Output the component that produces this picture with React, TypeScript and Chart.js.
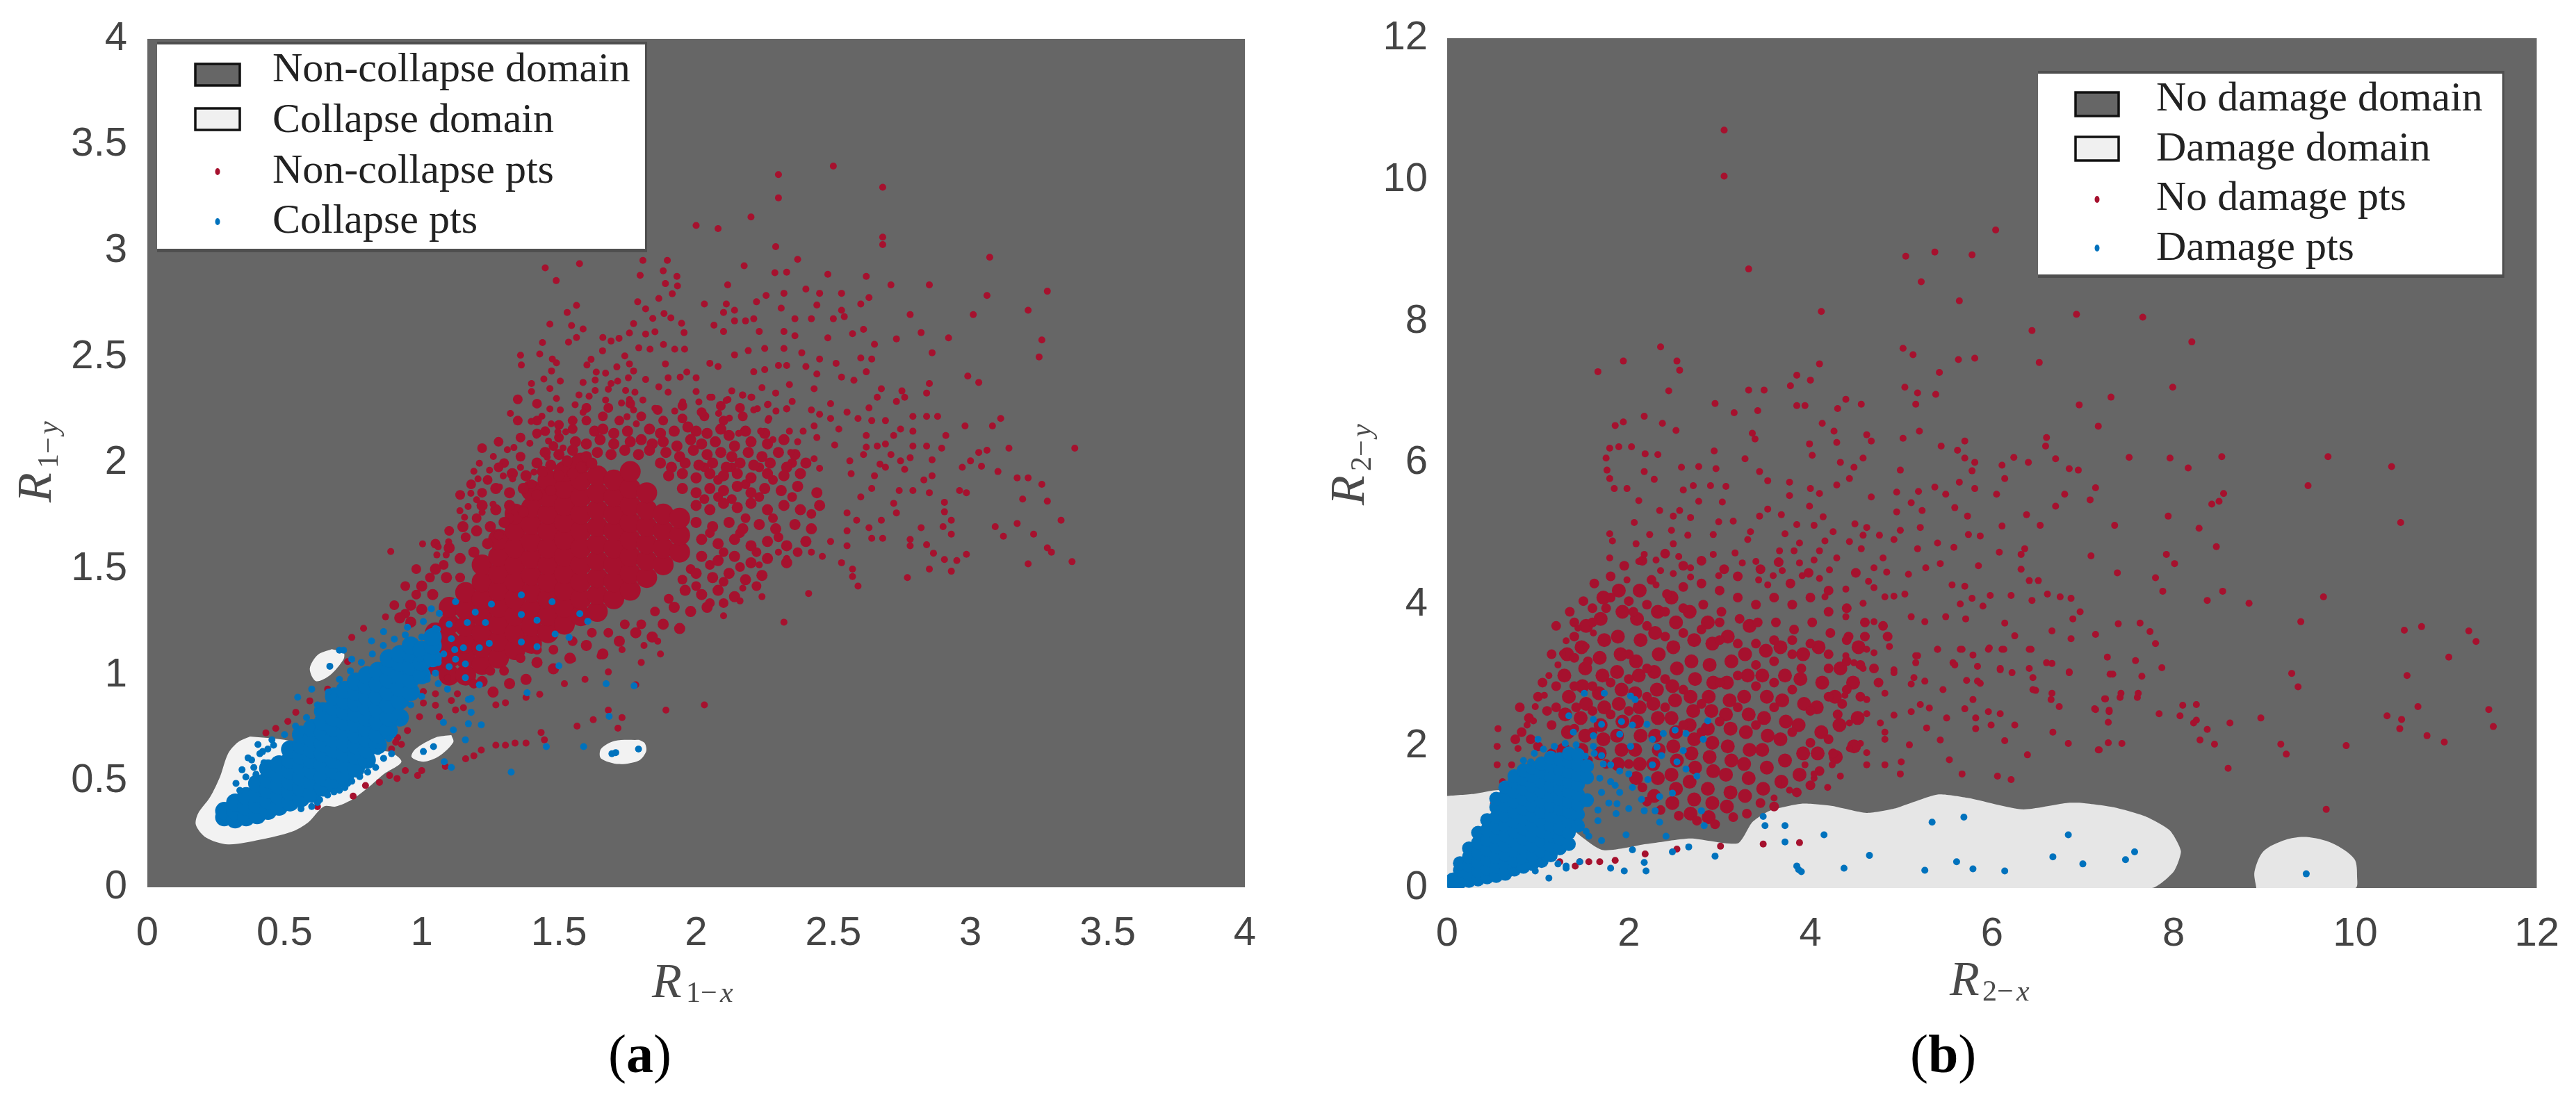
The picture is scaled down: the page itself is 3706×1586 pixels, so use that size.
import React, { useEffect, useRef } from "react";
import { Chart, registerables } from "chart.js";

Chart.register(...registerables);

const GREY = "#666666";
const RED = "#A6112E";
const BLUE = "#0072BD";

const ticksA = [0, 0.5, 1, 1.5, 2, 2.5, 3, 3.5, 4];
const ticksB = [0, 2, 4, 6, 8, 10, 12];

const legendA = ["Non-collapse domain", "Collapse domain", "Non-collapse pts", "Collapse pts"];
const legendB = ["No damage domain", "Damage domain", "No damage pts", "Damage pts"];

// ---- Panel (a): collapse domain outlines
const domA1 = [.374,.711,.330,.684,.294,.63,.265,.522,.228,.424,.185,.348,.177,.294,.214,.234,.294,.202,.41,.224,.526,.262,.585,.305,.643,.381,.686,.381,.745,.413,.803,.468,.861,.533,.926,.592,.875,.64,.715,.63,.50,.695];
const domA2 = [.672,1.123,.621,1.096,.592,1.031,.614,.972,.665,.999,.715,1.075,.715,1.107];
const domA3 = [1.108,.717,1.05,.706,.977,.652,.963,.614,1.006,.592,1.064,.619,1.115,.684];
const domA4 = [1.792,.695,1.704,.69,1.653,.652,1.653,.608,1.719,.581,1.792,.598,1.818,.641,1.813,.679];

// ---- Panel (a): sparse non-collapse points, right of the cloud
const redA1 = [2.68,3.065,2.68,3.03,3.07,2.97,2.08,3.105,2.29,3.02,2.37,2.96,2.175,2.93,2.287,2.897,2.33,2.9,2.48,2.89,2.62,2.88,2.115,2.84,2.71,2.84,2.85,2.84,3.28,2.81,3.06,2.79,2.255,2.79,2.32,2.8,2.4,2.82,2.45,2.8,2.53,2.8,2.63,2.78,2.6,2.75,2.44,2.745,2.22,2.76,2.11,2.75,2.03,2.75,2.14,2.72,2.1,2.71,2.31,2.73,2.53,2.72,2.5,2.68,2.54,2.69,2.42,2.68,2.36,2.68,2.21,2.68,2.18,2.67,2.14,2.67,2.78,2.7,3.01,2.7,3.21,2.72,2.065,2.65,2.1,2.62,2.23,2.62,2.32,2.62,2.36,2.6,2.48,2.59,2.57,2.61,2.61,2.63,2.73,2.585,2.82,2.615,2.92,2.59,3.26,2.58,2.65,2.56,2.19,2.53,2.25,2.54,2.14,2.51,2.32,2.54,2.385,2.52,2.86,2.52,3.25,2.5,2.6,2.495,2.64,2.49,2.62,2.43,2.45,2.49,2.51,2.47,2.4,2.455,2.33,2.46,2.3,2.46,2.25,2.44,2.21,2.43,2.08,2.455,2.05,2.47,2.53,2.405,2.575,2.39,2.44,2.42,2.99,2.41,3.03,2.38,2.85,2.375,2.84,2.33,2.675,2.35,2.75,2.34,2.76,2.31,2.66,2.31,2.73,2.29,2.34,2.37,2.43,2.35,2.24,2.355,2.29,2.33,2.13,2.34,2.17,2.32,2.2,2.31,2.05,2.31,2.11,2.295,2.35,2.29,2.49,2.28,2.26,2.275,2.21,2.25,2.33,2.255,2.42,2.25,2.63,2.26,2.55,2.24,2.45,2.23,2.49,2.21,2.59,2.21,2.64,2.2,2.69,2.2,2.79,2.22,2.84,2.22,2.88,2.22,3.11,2.21,2.98,2.175,3.08,2.175,2.745,2.16,2.79,2.15,2.91,2.13,2.52,2.16,2.34,2.15,2.39,2.15,2.43,2.175,2.265,2.21,2.62,2.13,2.72,2.13,2.44,2.12,2.155,2.14,2.235,2.15,2.28,2.11];
const redA2 = [2.79,2.08,2.84,2.08,2.895,2.07,3.14,2.07,3.38,2.07,3.03,2.05,3.06,2.06,2.66,2.08,2.69,2.09,2.62,2.075,2.61,2.04,2.505,2.085,2.37,2.1,2.345,2.05,2.71,2.04,2.78,2.025,2.745,2.01,2.86,2.015,3,2.01,3.04,1.985,2.97,1.98,3.1,1.96,2.67,1.995,2.69,1.98,2.76,1.97,2.56,2.01,2.565,1.95,2.43,2.02,2.45,1.975,2.65,1.94,2.86,1.94,2.83,1.92,3.17,1.93,3.21,1.93,3.26,1.9,2.64,1.88,2.74,1.87,2.79,1.87,2.85,1.86,2.96,1.87,2.985,1.86,3.19,1.83,3.28,1.82,2.6,1.84,2.72,1.81,2.905,1.815,2.905,1.77,2.73,1.765,3.33,1.73,3.17,1.715,3.09,1.7,2.93,1.73,2.9,1.7,2.82,1.695,2.675,1.73,2.585,1.73,2.63,1.695,2.55,1.765,2.55,1.68,3.23,1.665,3.12,1.655,2.93,1.665,2.78,1.64,2.78,1.61,2.68,1.645,2.64,1.645,2.55,1.61,2.49,1.63,2.84,1.615,2.865,1.575,3.28,1.6,3.295,1.58,2.985,1.57,2.905,1.545,2.95,1.54,3.37,1.535,3.21,1.525,2.85,1.5,2.93,1.49,2.53,1.53,2.57,1.5,2.57,1.465,2.77,1.46,2.59,1.42,2.41,1.385,2.24,1.37,2.16,1.35,2.1,1.28,2.32,1.25,2.46,1.56,2.42,1.58,2.33,1.55,2.265,1.55,2.17,1.41,2.23,1.52,2.3,1.58,2.3,3.36,2.5,3.4,2.68,3.3,2.3,3.25,2.2,3.16,2.0,3.12];

// ---- Panel (a): upper flank of the cloud
const redA3 = [1.45,2.92,1.575,2.94,1.49,2.86,1.806,2.955,1.895,2.955,1.88,2.906,1.796,2.885,1.93,2.88,1.888,2.846,1.932,2.835,1.564,2.743,1.53,2.71,1.467,2.655,1.546,2.648,1.588,2.632,1.564,2.592,1.535,2.57,1.44,2.568,1.43,2.514,1.36,2.508,1.363,2.462,1.476,2.49,1.491,2.472,1.473,2.434,1.445,2.396,1.505,2.386,1.4,2.375,1.4,2.337,1.467,2.351,1.491,2.304,1.467,2.255,1.505,2.25,1.323,2.234,1.399,2.196,1.438,2.221,1.472,2.185,1.496,2.147,1.525,2.147,1.418,2.131,1.394,2.093,1.462,2.104,1.336,2.073,1.312,2.063,1.261,2.031,1.21,1.999,1.247,1.966,1.19,1.961,1.205,1.925,1.297,1.939,1.331,1.925,1.283,1.887,1.179,1.857,1.2,1.827,1.169,1.795,1.26,1.806,1.139,1.775,1.156,1.744,1.22,1.768,1.003,1.619,1.098,1.629,1.06,1.605,.887,1.583,1.089,1.567,1.055,1.567,1.36,1.979,1.409,1.957,1.515,2.071,1.457,2.028,1.66,2.592,1.69,2.575,1.719,2.588,1.757,2.613,1.772,2.657,1.816,2.608,1.85,2.619,1.787,2.76,1.816,2.727,1.864,2.776,1.913,2.798,1.842,2.682,1.883,2.705,1.908,2.684,1.947,2.659,1.956,2.615,1.659,2.529,1.791,2.543,1.832,2.537,1.881,2.559,1.922,2.537,1.958,2.537,1.74,2.505,1.757,2.467,1.772,2.434,1.617,2.489,1.602,2.462,1.888,2.467,1.711,2.453,1.636,2.429,1.67,2.424,1.753,2.402,1.816,2.394,1.898,2.402,1.942,2.405,1.966,2.429,2,2.402,1.588,2.38,1.632,2.391,1.69,2.375,1.714,2.386,1.864,2.359,1.898,2.334,1.632,2.342,1.573,2.321,1.61,2.315,1.68,2.348,1.743,2.342,1.777,2.334,1.67,2.297,1.559,2.275,1.602,2.266,1.728,2.283,1.757,2.299,1.806,2.297,1.85,2.258,1.588,2.239,1.772,2.25,1.748,2.218,1.782,2.185,2,2.337,1.951,2.288,2.01,2.288,2.058,2.31,1.922,2.245,2.116,2.299,2.169,2.321,2.203,2.31,2.223,2.256,2.262,2.277,2.291,2.245,2.121,2.212,2.082,2.234,2.262,2.201,2.33,2.256];

// ---- Panel (a): mid-density belt around the solid core
const redA4 = [1.63,2.15,1.66,2.16,1.7,2.14,1.75,2.15,1.83,2.16,1.87,2.14,1.92,2.15,1.97,2.17,2,2.15,2.04,2.14,2.09,2.16,2.12,2.13,2.18,2.15,2.25,2.14,1.56,2.1,1.6,2.09,1.65,2.11,1.7,2.09,1.76,2.1,1.8,2.11,1.84,2.09,1.88,2.1,1.93,2.08,1.98,2.11,2.02,2.09,2.07,2.1,2.14,2.08,2.2,2.1,2.26,2.09,2.32,2.11,1.45,2.05,1.5,2.04,1.55,2.06,1.6,2.03,1.64,2.05,1.69,2.04,1.74,2.06,1.79,2.04,1.83,2.06,1.89,2.05,1.94,2.03,1.99,2.06,2.04,2.04,2.09,2.05,2.13,2.03,2.19,2.05,2.24,2.03,2.3,2.05,2.36,2.04,1.42,2,1.47,1.99,1.53,2.01,1.58,1.98,1.62,2,1.87,2,1.91,1.98,1.96,2,2.01,1.99,2.06,2,2.11,1.98,2.16,2,2.21,1.99,2.27,2,2.33,1.98,2.4,2,1.33,1.95,1.38,1.94,1.44,1.96,1.5,1.94,1.55,1.95,1.9,1.94,1.95,1.95,2,1.93,2.05,1.95,2.1,1.94,2.15,1.95,2.2,1.93,2.26,1.95,2.32,1.94,2.38,1.95,1.27,1.88,1.32,1.86,1.37,1.88,1.42,1.85,1.47,1.87,1.95,1.88,2,1.86,2.05,1.88,2.1,1.87,2.15,1.89,2.2,1.86,2.25,1.88,2.31,1.87,2.37,1.89,2.44,1.86,1.22,1.8,1.27,1.78,1.32,1.8,1.37,1.77,2,1.8,2.05,1.78,2.1,1.81,2.15,1.79,2.2,1.81,2.26,1.78,2.32,1.8,2.38,1.78,2.45,1.8,1.15,1.7,1.2,1.68,1.25,1.7,1.3,1.72,2,1.72,2.06,1.7,2.12,1.72,2.17,1.69,2.23,1.71,2.29,1.69,2.36,1.71,2.42,1.69,1.1,1.6,1.14,1.55,1.19,1.58,1.24,1.62,2.02,1.64,2.08,1.62,2.14,1.64,2.2,1.61,2.26,1.63,2.33,1.61,2.4,1.63,1.05,1.5,1.09,1.46,2.02,1.56,2.08,1.54,2.14,1.56,2.2,1.53,2.26,1.55,2.33,1.53,1,1.42,1.04,1.38,2,1.48,2.06,1.46,2.12,1.48,2.18,1.45,2.24,1.47,.96,1.33,1,1.31,1.96,1.4,2.02,1.38,2.08,1.4,2.14,1.37,.92,1.27,.96,1.25,1.92,1.32,1.98,1.3,2.04,1.32,1.88,1.24,1.94,1.22,1.84,1.18,1.78,1.2,1.72,1.16,1.66,1.1,1.6,1.14,1.54,1.08,1.48,1.03,1.42,1.06,1.38,.98,1.32,.96,1.26,.92,1.22,.97];
const redA6 = [1.35,2.3,1.42,2.28,1.55,2.2,1.6,2.2,1.66,2.22,1.72,2.2,1.8,2.22,1.88,2.2,1.95,2.21,2.03,2.22,2.1,2.2,2.17,2.22,1.36,2.12,1.42,2.14,1.5,2.12,1.28,2.1,1.22,2.07,1.3,2,1.36,2.03,1.48,2.08,1.4,1.9,1.24,1.92,1.28,1.98,1.18,1.9,1.14,1.85,1.22,1.86,1.32,1.74,1.2,1.74,1.16,1.65,1.28,1.66,1.1,1.68,1.05,1.62,.98,1.5,1.03,1.46,1.08,1.52,1.14,1.46,.94,1.42,.98,1.38,.9,1.33,.94,1.29,2.03,1.98,2.08,1.92,2.13,1.98,2.18,1.9,2.23,1.98,2.28,1.92,2.35,2,2.03,1.83,2.08,1.84,2.13,1.83,2.18,1.74,2.23,1.84,2.28,1.74,2.35,1.84,2.42,1.76,2.05,1.67,2.1,1.58,2.16,1.67,2.22,1.58,2.3,1.65,2.37,1.58,2.05,1.52,2.1,1.44,2.16,1.51,2.22,1.42,1.98,1.5,2,1.42,2.05,1.34,2.1,1.34,1.95,1.45,1.9,1.36,1.85,1.3,1.8,1.24,1.74,1.24,1.68,1.2,1.62,1.2,1.55,1.16,1.48,1.12,1.42,1.12,1.36,1.08,1.3,1.02,1.25,1.02,1.19,.96,1.6,2.26,1.68,2.26,1.76,2.28,1.86,2.25,1.95,2.27,2.02,2.24,2.09,2.27,2.16,2.26,1.5,2.18,1.55,2.16,1.42,2.2,1.35,2.2,1.45,2.15];

// ---- Panel (a): sparse lower tail and points along the blue band
const redA5 = [1.68,1.015,1.595,.98,1.52,.96,1.78,.955,1.8,1.06,1.87,1.1,1.86,1.16,1.81,1.14,1.73,1.12,1.65,1.09,1.55,1.075,1.43,.91,1.38,.895,1.305,.87,1.27,.86,2.03,.86,1.89,.835,1.68,.835,1.73,.8,1.625,.79,1.566,.76,1.715,.75,1.435,.73,1.447,.695,1.38,.68,1.34,.68,1.305,.67,1.27,.67,1.217,.647,1.19,.62,1.16,.606,1.086,.57,1,.55,.985,.527,.94,.55,.91,.513,.883,.527,.846,.495,.795,.48,.432,.728,.468,.749,.512,.782,.541,.825,.592,.879,.657,.934,.73,1.064,.788,1.221,.745,1.178,.868,1.275,1.035,1.02,1.006,.869,1.05,.858,1.108,.88,1.152,.847,.948,1.01,1.006,.923,.905,.684,.926,.674,.912,.706,.948,.739,.992,.804,.89,.652,1.05,.912,1.094,.988,1.13,.912,1.123,.836,1.064,.804,.3,.39,.33,.37,.62,.38,.75,.43];

// ---- Panel (a): the solid red core, marked with larger dots
const redCoreA = [1.05,1.05,1.05,1.12,1.05,1.2,1.1,1,1.1,1.08,1.1,1.16,1.1,1.24,1.1,1.32,1.16,1,1.16,1.08,1.16,1.15,1.16,1.23,1.16,1.31,1.16,1.39,1.22,1.05,1.22,1.13,1.22,1.2,1.22,1.28,1.22,1.36,1.22,1.44,1.22,1.52,1.28,1.08,1.28,1.16,1.28,1.24,1.28,1.32,1.28,1.4,1.28,1.48,1.28,1.56,1.28,1.64,1.34,1.12,1.34,1.2,1.34,1.28,1.34,1.36,1.34,1.44,1.34,1.52,1.34,1.6,1.34,1.68,1.34,1.76,1.4,1.15,1.4,1.23,1.4,1.31,1.4,1.39,1.4,1.47,1.4,1.55,1.4,1.63,1.4,1.71,1.4,1.79,1.4,1.87,1.46,1.2,1.46,1.28,1.46,1.36,1.46,1.44,1.46,1.52,1.46,1.6,1.46,1.68,1.46,1.76,1.46,1.84,1.46,1.92,1.52,1.24,1.52,1.32,1.52,1.4,1.52,1.48,1.52,1.56,1.52,1.64,1.52,1.72,1.52,1.8,1.52,1.88,1.52,1.96,1.58,1.28,1.58,1.36,1.58,1.44,1.58,1.52,1.58,1.6,1.58,1.68,1.58,1.76,1.58,1.84,1.58,1.92,1.58,2,1.64,1.3,1.64,1.38,1.64,1.46,1.64,1.54,1.64,1.62,1.64,1.7,1.64,1.78,1.64,1.86,1.64,1.94,1.7,1.36,1.7,1.44,1.7,1.52,1.7,1.6,1.7,1.68,1.7,1.76,1.7,1.84,1.7,1.92,1.76,1.4,1.76,1.48,1.76,1.56,1.76,1.64,1.76,1.72,1.76,1.8,1.76,1.88,1.76,1.96,1.82,1.46,1.82,1.54,1.82,1.62,1.82,1.7,1.82,1.78,1.82,1.86,1.88,1.52,1.88,1.6,1.88,1.68,1.88,1.76,1.94,1.58,1.94,1.66,1.94,1.74];

// ---- Panel (a): collapse points
const blueA1 = [1.326,.543,1.454,.663,1.59,.663,1.672,.96,1.774,.95,1.683,.806,1.384,.917,1.5,1.044,1.108,.565,1.082,.592,1.159,.695,1.217,.766,1.17,.771,1.115,.742,1.079,.777,1.18,.825,1.17,.885,1.537,1.178,1.486,1.194,1.42,1.134,1.363,1.156,1.42,1.259,1.363,1.286,1.475,1.346,1.576,1.29,1.605,1.254,1.254,1.335,1.363,1.378,1.79,.652,1.693,.63,1.707,.635,1.043,.663,1.006,.64,.665,1.042,.7,1.118,.337,.457,.323,.49,.359,.52,.345,.554,.388,.565,.367,.61,.41,.63,.403,.673,.439,.652,.454,.695,.425,.587,.396,.533,.599,.381,.657,.435,.73,.49,.774,.522,.832,.565,.861,.608,.89,.63,.628,.413,.7,.457,.803,.543,.745,.5,1.035,1.313,1.064,1.291,1.123,1.346,1.166,1.248,1.232,1.248,1.195,1.297,.948,1.226,1.006,1.253,1.057,1.216,1.108,1.172,1.152,1.129,1.21,1.129,1.246,1.15,1.123,1.075,1.159,1.053,1.159,.988,1.21,.955,1.18,.89,1.094,.934,1.05,1.01,.992,1.075,.861,1.205,.817,1.161,.745,1.075,.715,1.118,.599,.934,.548,.896,.628,.836,.38,.6,.42,.64,.46,.67,.5,.72,.54,.76,.58,.8,.62,.86,.66,.92,.7,.98,.74,1.02,.78,1.06,.82,1.1,.86,1.14,.9,1.17,.94,1.19,1,1.18,1.05,1.22,1.1,1.24,1.08,1.1,1.12,1.12,1.1,1.04,1.06,1.06,1.02,.98,1.06,.96,1,.9,.96,.86,.92,.78,.88,.7,.84,.64,.72,.47,.68,.45,.62,.4,.56,.37];
const blueCoreA = [.28,.33,.28,.36,.32,.32,.32,.36,.32,.4,.36,.33,.36,.38,.36,.43,.4,.34,.4,.39,.4,.44,.4,.49,.44,.36,.44,.41,.44,.46,.44,.51,.44,.56,.48,.38,.48,.43,.48,.48,.48,.53,.48,.58,.52,.4,.52,.45,.52,.5,.52,.55,.52,.6,.52,.65,.56,.42,.56,.47,.56,.52,.56,.57,.56,.62,.56,.67,.56,.72,.6,.44,.6,.5,.6,.55,.6,.6,.6,.65,.6,.7,.6,.75,.64,.47,.64,.52,.64,.58,.64,.63,.64,.68,.64,.73,.64,.78,.64,.83,.68,.49,.68,.55,.68,.6,.68,.65,.68,.7,.68,.75,.68,.8,.68,.85,.68,.9,.72,.52,.72,.58,.72,.63,.72,.68,.72,.73,.72,.78,.72,.83,.72,.88,.72,.93,.76,.56,.76,.62,.76,.67,.76,.72,.76,.77,.76,.82,.76,.87,.76,.92,.76,.97,.8,.6,.8,.65,.8,.7,.8,.75,.8,.8,.8,.85,.8,.9,.8,.95,.8,1,.84,.67,.84,.72,.84,.78,.84,.84,.84,.9,.84,.96,.84,1.02,.88,.74,.88,.8,.88,.86,.88,.92,.88,.98,.88,1.04,.88,1.08,.92,.8,.92,.88,.92,.94,.92,1,.92,1.06,.92,1.1,.96,.92,.96,.98,.96,1.04,.96,1.1,.96,1.14,1,1,1,1.06,1,1.12,1.04,1.08,1.04,1.14,1.04,1.18];

// ---- Panel (b): damage domain outlines
const domB1 = [0,1.3,.3,1.33,.6,1.38,1.2,1,1.7,.54,2.19,.62,2.68,.7,3.2,.63,3.36,.93,3.55,1.09,3.9,1.19,4.23,1.16,4.62,1.06,4.92,1.12,5.4,1.32,5.74,1.27,6.33,1.11,6.82,1.2,7,1.2,7.34,1.14,7.69,1.01,7.96,.81,8.08,.52,8,.23,7.76,0,0,0];
const domB2 = [8.91,0,8.89,.23,8.99,.52,9.23,.68,9.46,.72,9.75,.63,9.99,.41,10.02,.15,10,0];

// ---- Panel (b): no-damage points
const redB1 = [6.04,9.29,5.05,8.92,5.37,8.98,5.78,8.94,3.32,8.74,5.22,8.56,5.64,8.29,4.12,8.14,6.93,8.1,7.66,8.06,6.44,7.87,8.2,7.71,2.35,7.64,5.02,7.62,5.13,7.53,1.94,7.44,2.53,7.44,2.56,7.31,4.1,7.4,5.63,7.46,5.81,7.48,6.52,7.42,5.42,7.28,1.66,7.29,3.85,7.24,4,7.17,3.78,7.09,2.44,7.02,3.32,7.03,3.49,7.03,5.04,7.07,5.18,6.99,5.38,6.97,7.99,7.07,7.31,6.93,6.96,6.82,2.95,6.84,3.16,6.71,3.42,6.74,3.85,6.81,3.94,6.81,4.3,6.77,4.39,6.9,4.56,6.83,5.16,6.83,7.17,6.52,2.17,6.66,1.85,6.53,1.94,6.58,2.37,6.56,2.52,6.46,4.13,6.56,4.26,6.45,3.36,6.42,3.39,6.34,5.2,6.45,5.02,6.35,4.62,6.4,4.67,6.31,5.7,6.31,5.44,6.24,5.62,6.18,6.6,6.36,6.59,6.24,3.99,6.27,4.29,6.29,2.03,6.23,1.79,6.21,1.89,6.23,2.94,6.17,2.18,6.13,2.32,6.12,4.02,6.11,1.75,6.07,3.28,6.06,4.58,6.07,4.33,6.01,4.48,5.94,5.7,6.07,5.81,6.01,5.78,5.89,6.24,6.08,6.4,6.01,6.7,6.06,6.11,5.97,6.85,5.92,6.95,5.9,7.51,6.08,7.96,6.07,8.53,6.09,9.7,6.09,10.4,5.95,8.16,5.93,2.58,5.94,2.77,5.95,2.96,5.92,4.99,5.9,3.44,5.88,1.76,5.9,2.17,5.88,2.28,5.77,1.79,5.78,6.14,5.78,3.53,5.75,4.43,5.78,4.29,5.69,3.77,5.73,5.64,5.73,9.48,5.68,5.37,5.66,5.81,5.64,7.14,5.65,1.98,5.64,1.84,5.64,2.6,5.62,2.71,5.68,2.9,5.68,3.07,5.67,4,5.64,4.1,5.57,4.95,5.59,5.19,5.6,5.49,5.56,6.05,5.56,6.8,5.56,8.55,5.57,3.77,5.54,4.67,5.52,2.11,5.47,2.77,5.46,3.03,5.45,7.08,5.48,8.5,5.46,8.42,5.42,5.11,5.44,3.99,5.39,6.7,5.39,5.59,5.37,3.53,5.35,2.34,5.33,2.56,5.33,4.95,5.31,5.23,5.33,3.44,5.25,3.68,5.27,2.68,5.23,2.49,5.25,5.73,5.25,6.38,5.27,7.94,5.25,4.14,5.24,3.15,5.18,2.99,5.17,2.06,5.16,10.5,5.16,3.85,5.13,4.04,5.12,4.49,5.14,4.62,5.09,5.21,5.09,6.11,5.11,6.53,5.12,7.35,5.12,8.28,5.08,4.99,5.05,2.47,5.05,3.34,5.03,2.65,4.98,3.72,5,5.74,4.99,5.87,4.97,1.79,5,2.23,4.99,2.93,4.99,4.25,5.03,4.58,4.98,4.76,4.98,4.92,4.92,3.31,4.92,2.49,4.86,2.08,4.86,1.82,4.9,3.88,4.87,4.16,4.9,4.43,4.89,5.4,4.87,8.47,4.82,5.18,4.79,4.56,4.79,5.58,4.81,6.36,4.79,6.08,4.74,6.32,4.71,7.09,4.69,7.92,4.71,3.82,4.76,4.1,4.76,2.93,4.71,3.17,4.73,3.66,4.76,2.17,4.71,1.79,4.66,2.55,4.68,8.01,4.58,4.29,4.66,4.8,4.66,3.4,4.61,3.25,4.59,2.3,4.63,2.11,4.61,3.88,4.59,4.04,4.63,5.43,4.58,5.27,4.52,5.85,4.55,6.32,4.5,4.7,4.52,2.68,4.52,3.91,4.41,4.21,4.49,4.84,4.46,7.38,4.45,5.08,4.43,2.35,4.48,3.69,4.48,7.8,4.38,3.59,4.41,2.99,4.41,2.49,4.44,2.68,4.39,4.1,4.37,6.41,4.34,6.51,4.34,1.98,4.35,3.43,4.35,4.64,4.33,5.56,4.28,5.7,4.26,2.3,4.28,3.53,4.28,4.39,4.22,4.7,4.24,7.88,4.19,8.54,4.19,8.37,4.06,8.83,4.02,9.65,4.11,6.61,4.15,6.75,4.11,6.87,4.09,6.21,4.13,5.98,4.13,5.78,4.09,6.44,4.06,5.04,4.15,4.92,4.12,4.82,4.11,4.16,4.11,5.65,4.01,5.9,3.98,4.58,4.02,6.97,3.9,6.89,3.8,9.4,3.76,10.54,3.64,10.73,3.69,11.25,3.63,11.33,3.48,11.03,3.26,9.3,3.03,10.57,3,9.37,2.84,7.63,3.74,7.39,3.73,7.74,3.62,7.14,3.58,6.87,3.52,7.8,3.45,6.66,3.63,6.25,3.56,6.14,3.74,5.49,3.83,5.71,3.8,5.11,3.83,5.26,3.76,4.39,3.83,4.7,3.76,7.27,3.26,7.58,3.21,7.33,3.02,7.65,2.99,7.87,3.11,6.85,3.04,6.66,3.17,6.41,3.37,6.13,3.37,5.97,3.39,5.65,3.37,6.41,3.1,6.22,3.04,6.09,3.1,5.84,3.13,5.59,3.15,5.4,3.37,5.18,3.28,4.7,3.32,4.39,3.28,4.92,3.04,5.14,2.97,4.58,3.1,5.46,2.8,5.87,2.89,6.45,2.8,6.66,2.75,7.42,2.75,7.61,2.75,3.05,10.7,3.05,10.05];
const redB2 = [7.24,2.67,7.41,2.69,7.6,2.69,7.14,2.52,7.29,2.49,7.28,2.34,7.28,2.05,7.43,2.04,7.17,1.95,7.84,2.46,8.07,2.43,8.1,2.58,8.25,2.59,8.25,2.37,8.22,2.33,8.37,2.24,8.62,2.33,8.96,2.4,8.29,2.09,8.45,2.03,9.18,2.03,9.24,1.89,8.6,1.69,9.9,2.01,9.68,1.11,10.35,2.43,10.51,2.38,10.49,2.25,10.69,2.56,10.79,2.15,10.98,2.06,11.47,2.52,11.52,2.28,3.48,.62,3.88,.64,3.01,.59,2.53,.55,2.18,.48,1.85,.39,1.68,.37,1.56,.37,1.24,.37,.73,.26,.51,1.19,.56,2.25,.55,2,.55,1.74,.61,1.5,.88,2.3,.97,2.56,1.12,3,1.27,3.31,1.31,3.49,1.44,3.67,1.53,3.41,.78,1.97,.71,1.74,.95,2.36,1.07,2.72,1.22,3.15,1.61,3.6,4.62,1.91,4.62,1.74,4.82,1.74,5,1.78,4.99,1.61,5.67,1.61,6.06,1.58,6.21,1.53,5.53,1.81,6.39,1.88,6.14,2.08,5.43,2.09,5.09,2.02,4.82,2.1,7.18,1.95,6.84,2.04,6.67,2.2,6.25,2.3,5.99,2.3,5.82,2.25,6.09,2.46,5.5,2.4,5.7,2.53,5.82,2.4,5.96,2.49,5.28,2.26,5.79,2.66,6.65,2.66,6.74,2.56,6.48,2.79,7.13,2.53,7.29,2.51,7.25,2.67,7.3,3.02,6.85,3.05,6.45,2.97,6.09,3.08,5.84,2.92,5.72,2.93,5.57,3.18,5.16,3.18,5.26,2.92,5.11,2.88,4.92,3.08,5.31,2.54,5.21,2.59,5.11,2.49,4.92,2.44,4.77,2.33,4.82,2.2,4.55,2.04,4.43,1.97,4.33,1.58,4.19,1.42,4.04,1.55,4.24,1.74,4.43,2.33,4.62,2.46,4.38,2.72,4.62,2.66,4.82,2.75,4.48,3.18,4.62,3.37,4.87,3.41,5.16,3.28,5.4,3.37,5.67,3.37,5.79,3.29,5.96,3.37,6.11,3.37,6.43,3.37,6.6,3.18,3.6,1.27,3.77,1.38,3.65,1.48,4.04,1.61,3.94,1.74,1.02,.37,1.17,.44,1.46,.37,1.41,.31];
// ---- Panel (b): the dense belt above the core
const redB3 = [1.2,3.7,1.35,3.9,1.5,4.05,1.62,4.3,1.8,4.4,1.95,4.55,2.15,4.62,2.4,4.72,2.6,4.55,2.8,4.62,3.05,4.5,3.2,4.4,3.45,4.5,3.65,4.6,3.78,4.3,3.98,4.45,4.2,4.2,4.5,4.45,1.4,3.75,1.6,3.95,1.8,4.1,1.75,3.95,2,4.05,2.2,4,2.25,4.35,2.42,4.15,2.6,4.25,2.6,3.95,2.8,4.3,2.82,4,3,4.2,3.02,3.9,3.2,4.1,3.22,3.8,3.4,4,3.42,3.75,3.6,4.1,3.62,3.75,3.8,4,3.82,3.65,4,4.1,4.02,3.75,4.2,3.9,4.22,3.6,4.4,3.95,4.42,3.55,4.6,3.75,4.6,3.55,4.8,3.7,4.85,3.55,2.05,3.9,2.2,3.7,2.4,3.55,2.4,3.9,2.6,3.6,2.8,3.65,3,3.5,3,3.75,3.2,3.45,3.4,3.45,3.6,3.5,3.8,3.3,3.8,3.5,4,3.45,4.2,3.3,4.2,3.1,4.4,3.2,4.4,3.5,4.55,3.15,4.7,3.1,4.75,2.9,4.55,2.7,4.35,2.6,4.3,2.45,4.2,2.1,4.25,1.9,4.1,1.65,4,1.45,3.85,1.35,3.6,1.15,3.45,1.2,3.3,1.05,3.15,1.0,2.95,.9,2.75,.95,2.55,1.02,2.35,1.1,2.2,1.22,2.15,1.42,2,1.75,1.75,1.75,1.55,1.8,1.35,1.8,1.15,1.9,1,2,.92,2.1,.82,2.2,.9,2.4,.75,2.1,.8,2.55,1,2.7,1.1,2.5,1.15,2.3,1.2,2.55,1.05,2.9,1.2,2.85,1.15,3.3,1.4,3.25,1.4,3.55,1.6,3.75,1.55,3.2,1.4,2.85,1.42,2.55,1.4,2.25,1.6,2.2,1.6,2.5,1.6,2.85,1.8,2.9,1.8,2.45,2,2.5,2,2.95,2,3.3,2.2,3.1,2.2,2.7,2.4,2.95,2.4,2.55,2.6,2.8,2.6,2.3,2.8,2.6,2.8,2.2,3,2.35,3,2.9,3.2,2.55,3.2,3,3.4,2.85,3.4,2.3,3.6,2.55,3.6,2.9,3.8,2.8,3.8,2.2,4,2.5,4,2.05,4.2,2.7,4.4,2.8,3.9,3.1,3.6,3.2,3.4,3.15];
const redCoreB = [1.28,1.95,1.33,2.2,1.3,2.45,1.34,2.7,1.29,3,1.32,3.3,1.48,1.95,1.52,2.15,1.47,2.4,1.53,2.6,1.49,2.85,1.52,3.1,1.48,3.4,1.53,3.7,1.68,1.9,1.72,2.1,1.69,2.3,1.73,2.55,1.67,2.75,1.71,3,1.68,3.25,1.73,3.5,1.69,3.8,1.72,4.1,1.88,1.75,1.92,1.95,1.87,2.15,1.93,2.35,1.89,2.6,1.92,2.8,1.87,3.05,1.91,3.3,1.88,3.55,1.93,3.9,1.89,4.2,2.08,1.55,2.12,1.75,2.07,1.95,2.13,2.15,2.09,2.35,2.12,2.55,2.07,2.75,2.11,3,2.08,3.2,2.13,3.5,2.09,3.8,2.12,4.2,2.28,1.3,2.32,1.55,2.27,1.75,2.33,1.95,2.29,2.15,2.32,2.4,2.27,2.6,2.31,2.8,2.28,3.05,2.33,3.3,2.29,3.6,2.32,3.9,2.48,1.2,2.52,1.4,2.47,1.6,2.53,1.8,2.49,2,2.52,2.2,2.47,2.4,2.51,2.65,2.48,2.85,2.53,3.1,2.49,3.4,2.52,3.75,2.47,4.1,2.68,1.05,2.72,1.25,2.67,1.5,2.73,1.7,2.69,1.9,2.72,2.1,2.67,2.3,2.71,2.5,2.68,2.7,2.73,2.95,2.69,3.2,2.72,3.5,2.67,3.9,2.88,1,2.92,1.2,2.87,1.4,2.93,1.65,2.89,1.85,2.92,2.05,2.87,2.25,2.91,2.5,2.88,2.7,2.93,2.9,2.89,3.15,2.92,3.45,2.87,3.75,3.08,1.15,3.12,1.35,3.07,1.6,3.13,1.8,3.09,2,3.12,2.25,3.07,2.45,3.11,2.65,3.08,2.9,3.13,3.2,3.09,3.55,3.28,1.3,3.32,1.55,3.27,1.75,3.33,1.95,3.29,2.2,3.32,2.45,3.27,2.7,3.31,3,3.28,3.3,3.33,3.7,3.48,1.4,3.52,1.7,3.47,1.95,3.53,2.15,3.49,2.4,3.52,2.7,3.47,3,3.51,3.35,3.68,1.5,3.72,1.8,3.67,2.1,3.73,2.35,3.69,2.65,3.72,3,3.67,3.4,3.88,1.6,3.92,1.9,3.87,2.3,3.93,2.6,3.89,2.95,3.92,3.3,4.08,1.9,4.12,2.2,4.07,2.55,4.13,2.9,4.09,3.4,4.28,1.85,4.32,2.3,4.27,2.7,4.33,3.1,4.48,2,4.52,2.4,4.47,2.9,4.53,3.4];

// ---- Panel (b): damage points
const blueB1 = [5.34,.93,5.69,1,6.84,.75,6.67,.44,7,.34,4.65,.46,5.61,.37,5.79,.27,6.14,.24,5.26,.25,4.37,.28,4.15,.75,3.72,.88,3.72,.65,3.5,.88,3.48,1.01,2.95,.45,2.66,.58,2.48,.51,3.85,.31,3.9,.23,3.87,.26,2.19,.24,1.95,.24,1.8,.28,2.17,.36,2.04,.54,1.12,.14,2.41,.73,2.83,.88,9.46,.2,7.57,.51,7.47,.4,1.51,2.75,1.73,2.75,2.02,2.71,2.07,2.66,1.34,2.43,1.7,2.31,1.61,2.38,1.92,2.35,2.04,2.3,2.2,2.31,2.87,2.36,2.51,2.23,2.38,2.18,2.63,2.18,2.82,2.1,2.26,2.1,1,2.1,1.39,2.2,1.61,2.15,1.9,2.17,2.02,2,2.31,1.99,2.6,1.94,2.36,1.87,.92,1.78,2.26,1.74,2.53,1.78,2.63,1.68,2.75,1.58,2.21,1.53,2.48,1.34,2.34,1.29,1.87,1.19,2,1.12,2.17,1.09,2.29,1.09,2.8,1.09,2.34,.93,1.97,.75,1.7,.67,1.56,.73,1.44,.93,1.53,.8,1.9,1.65,1.8,1.74,1.61,2,1.7,1.87,2,1.61,2.04,1.42,2.14,1.25,1.85,1.45,.73,.24,.88,.31,1.02,.37,1.17,.44,.97,.24,1.31,.31,1.46,.37,1.31,.28,1.22,.34,1.66,1.1,1.7,1.35,1.68,1.55,1.72,1.75,1.62,1.9,1.66,.95,1.78,1.2,1.8,1.5,1.52,1.86,1.42,2.02,1.3,2.04,1.18,2,1.06,1.96,.96,1.9,.84,1.8,1.86,1.05,1.9,1.35];
const blueCoreB = [.06,.07,.06,.12,.14,.08,.14,.16,.14,.25,.14,.35,.24,.1,.24,.2,.24,.32,.24,.44,.24,.56,.34,.12,.34,.24,.34,.36,.34,.5,.34,.64,.34,.78,.44,.15,.44,.27,.44,.4,.44,.54,.44,.68,.44,.82,.44,.96,.54,.17,.54,.3,.54,.44,.54,.58,.54,.72,.54,.86,.54,1,.54,1.14,.54,1.26,.64,.2,.64,.33,.64,.47,.64,.6,.64,.74,.64,.88,.64,1.02,.64,1.16,.64,1.3,.64,1.42,.74,.26,.74,.38,.74,.52,.74,.66,.74,.8,.74,.94,.74,1.08,.74,1.22,.74,1.36,.74,1.5,.74,1.58,.84,.3,.84,.42,.84,.56,.84,.7,.84,.84,.84,.98,.84,1.12,.84,1.26,.84,1.4,.84,1.54,.84,1.66,.94,.34,.94,.46,.94,.6,.94,.74,.94,.88,.94,1.02,.94,1.16,.94,1.3,.94,1.44,.94,1.58,.94,1.7,1.04,.38,1.04,.52,1.04,.66,1.04,.8,1.04,.94,1.04,1.08,1.04,1.22,1.04,1.36,1.04,1.5,1.04,1.64,1.04,1.76,1.14,.46,1.14,.6,1.14,.74,1.14,.88,1.14,1.02,1.14,1.16,1.14,1.3,1.14,1.44,1.14,1.58,1.14,1.72,1.14,1.84,1.24,.56,1.24,.7,1.24,.84,1.24,.98,1.24,1.12,1.24,1.26,1.24,1.4,1.24,1.54,1.24,1.68,1.24,1.82,1.34,.62,1.34,.78,1.34,.94,1.34,1.08,1.34,1.22,1.34,1.36,1.34,1.5,1.34,1.64,1.34,1.78,1.34,1.9,1.44,.88,1.44,1.04,1.44,1.18,1.44,1.32,1.44,1.46,1.44,1.6,1.44,1.74,1.44,1.88,1.54,1.24,1.54,1.56,1.54,1.72];

const pts = (flat: number[]) => {
  const out: { x: number; y: number }[] = [];
  for (let i = 0; i < flat.length; i += 2) out.push({ x: flat[i], y: flat[i + 1] });
  return out;
};
const closed = (flat: number[]) => {
  const p = pts(flat);
  return [...p, p[0]];
};

const areaSet = (data: any[], color: string, order: number, tension = 0.3) => ({
  data,
  showLine: true,
  fill: "shape",
  backgroundColor: color,
  borderWidth: 0,
  pointRadius: 0,
  tension,
  order,
});
const dotSet = (flat: number[], color: string, radius: number, order: number) => ({
  data: pts(flat),
  showLine: false,
  backgroundColor: color,
  borderWidth: 0,
  pointRadius: radius,
  pointHoverRadius: radius,
  order,
});

const SERIF = "'Liberation Serif', serif";

const decor = {
  id: "decor",
  afterDatasetsDraw(chart: any, _a: any, o: any) {
    const c = chart.ctx as CanvasRenderingContext2D;
    const b = o.box;
    c.save();
    c.fillStyle = "#4f4f4f";
    c.fillRect(b.x, b.y - 4, b.w + 3, b.h + 9);
    c.fillStyle = "#ffffff";
    c.fillRect(b.x, b.y, b.w, b.h);
    o.labels.forEach((t: string, i: number) => {
      c.font = `${o.legendSize}px ${SERIF}`;
      c.fillStyle = "#222222";
      c.textBaseline = "alphabetic";
      c.textAlign = "left";
      c.fillText(t, o.textX, o.base[i]);
      if (i < 2) {
        c.fillStyle = i === 0 ? GREY : "#f0f0f0";
        c.strokeStyle = "#111111";
        c.lineWidth = 3.5;
        c.fillRect(o.swX, o.swY[i], o.swW, o.swH);
        c.strokeRect(o.swX, o.swY[i], o.swW, o.swH);
      } else {
        c.fillStyle = i === 2 ? RED : BLUE;
        c.beginPath();
        c.ellipse(o.swX + o.swW / 2, o.dotY[i - 2], 3.5, 5, 0, 0, Math.PI * 2);
        c.fill();
      }
    });

    const T = "#4a4a4a";
    c.fillStyle = T;
    c.font = `italic 70px ${SERIF}`;
    c.fillText("R", o.xT.x, o.xT.y);
    c.font = `42px ${SERIF}`;
    c.fillText(o.sub, o.xT.sx, o.xT.sy);
    c.font = `italic 42px ${SERIF}`;
    c.fillText("x", o.xT.sx + 49, o.xT.sy);

    c.save();
    c.translate(o.yT.x, o.yT.y);
    c.rotate(-Math.PI / 2);
    c.font = `italic 70px ${SERIF}`;
    c.fillText("R", 0, 0);
    c.font = `42px ${SERIF}`;
    c.fillText(o.sub, 49, o.yT.sy);
    c.font = `italic 42px ${SERIF}`;
    c.fillText("y", 98, o.yT.sy);
    c.restore();

    c.fillStyle = "#000000";
    c.font = `78px ${SERIF}`;
    c.fillText("(", o.cap.x, o.cap.y);
    let cx = o.cap.x + c.measureText("(").width;
    c.font = `bold 78px ${SERIF}`;
    c.fillText(o.cap.t, cx, o.cap.y);
    cx += c.measureText(o.cap.t).width;
    c.font = `78px ${SERIF}`;
    c.fillText(")", cx, o.cap.y);
    c.restore();
  },
};

function axis(ticks: number[], size: number, pad: number, isX: boolean) {
  return {
    type: "linear",
    min: ticks[0],
    max: ticks[ticks.length - 1],
    grid: { display: false },
    border: { display: false },
    afterBuildTicks: (s: any) => {
      s.ticks = ticks.map((value) => ({ value }));
    },
    afterFit: (s: any) => {
      if (isX) s.height = size;
      else s.width = size;
    },
    ticks: {
      autoSkip: false,
      maxRotation: 0,
      padding: pad,
      color: "#444444",
      font: { family: "'Liberation Sans', sans-serif", size: 58 },
      callback: (v: number) => String(v),
    },
  };
}

function Panel({ left, width, cfg }: { left: number; width: number; cfg: any }) {
  const ref = useRef<HTMLCanvasElement>(null);
  useEffect(() => {
    const chart = new Chart(ref.current as HTMLCanvasElement, {
      type: "scatter",
      data: { datasets: cfg.datasets },
      options: {
        animation: false,
        responsive: false,
        layout: { padding: cfg.padding },
        scales: { x: cfg.x, y: cfg.y },
        plugins: { legend: { display: false }, tooltip: { enabled: false }, decor: cfg.decor },
      },
      plugins: [decor],
    } as any);
    return () => chart.destroy();
  }, []);
  return (
    <canvas
      ref={ref}
      width={width}
      height={1586}
      style={{ position: "absolute", left, top: 0, width, height: 1586 }}
    />
  );
}

const cfgA = {
  padding: { left: 0, right: 62, top: 47, bottom: 0 },
  x: axis(ticksA, 309, 24, true),
  y: axis(ticksA, 212, 21, false),
  datasets: [
    areaSet(closed([0, 0, 4, 0, 4, 4, 0, 4]), GREY, 20, 0),
    areaSet(closed(domA1), "#f2f2f2", 15),
    areaSet(closed(domA2), "#f2f2f2", 15),
    areaSet(closed(domA3), "#f2f2f2", 15),
    areaSet(closed(domA4), "#f2f2f2", 15),
    dotSet(redCoreA, RED, 15, 10),
    dotSet(redA1, RED, 5, 9),
    dotSet(redA2, RED, 5, 9),
    dotSet(redA3, RED, 5, 9),
    dotSet(redA4, RED, 8, 9),
    dotSet(redA6, RED, 7, 9),
    dotSet(redA5, RED, 5, 9),
    dotSet(blueCoreA, BLUE, 13, 5),
    dotSet(blueA1, BLUE, 5, 4),
  ],
  decor: {
    labels: legendA,
    box: { x: 226, y: 64, w: 702, h: 294 },
    legendSize: 60,
    textX: 392,
    base: [117, 190, 263, 335],
    swX: 281,
    swW: 64,
    swH: 31,
    swY: [92, 156],
    dotY: [247, 319],
    sub: "1−",
    xT: { x: 938, y: 1435, sx: 987, sy: 1442 },
    yT: { x: 73, y: 723, sy: 10 },
    cap: { x: 875, y: 1543, t: "a" },
  },
};

const OFF = 1853;
const cfgB = {
  padding: { left: 0, right: 52, top: 52, bottom: 0 },
  x: axis(ticksB, 308, 24, true),
  y: axis(ticksB, 2082 - OFF, 20, false),
  datasets: [
    areaSet(closed([0, 0, 12, 0, 12, 12, 0, 12]), GREY, 20, 0),
    areaSet(closed(domB1), "#e6e6e6", 15, 0.2),
    areaSet(closed(domB2), "#e6e6e6", 15),
    dotSet(redCoreB, RED, 10, 10),
    dotSet(redB1, RED, 5, 9),
    dotSet(redB2, RED, 5, 9),
    dotSet(redB3, RED, 7, 9),
    dotSet(blueCoreB, BLUE, 10, 5),
    dotSet(blueB1, BLUE, 5, 4),
  ],
  decor: {
    labels: legendB,
    box: { x: 2932 - OFF, y: 106, w: 668, h: 289 },
    legendSize: 60,
    textX: 3102 - OFF,
    base: [159, 231, 302, 374],
    swX: 2986 - OFF,
    swW: 62,
    swH: 34,
    swY: [133, 197],
    dotY: [287, 357],
    sub: "2−",
    xT: { x: 2805 - OFF, y: 1432, sx: 2852 - OFF, sy: 1440 },
    yT: { x: 1962 - OFF, y: 727, sy: 10 },
    cap: { x: 2748 - OFF, y: 1543, t: "b" },
  },
};

export default function App() {
  useEffect(() => {
    document.body.style.margin = "0";
    document.body.style.background = "#ffffff";
  }, []);
  return (
    <div style={{ position: "relative", width: 3706, height: 1586, overflow: "hidden" }}>
      <Panel left={0} width={OFF} cfg={cfgA} />
      <Panel left={OFF} width={3706 - OFF} cfg={cfgB} />
    </div>
  );
}
